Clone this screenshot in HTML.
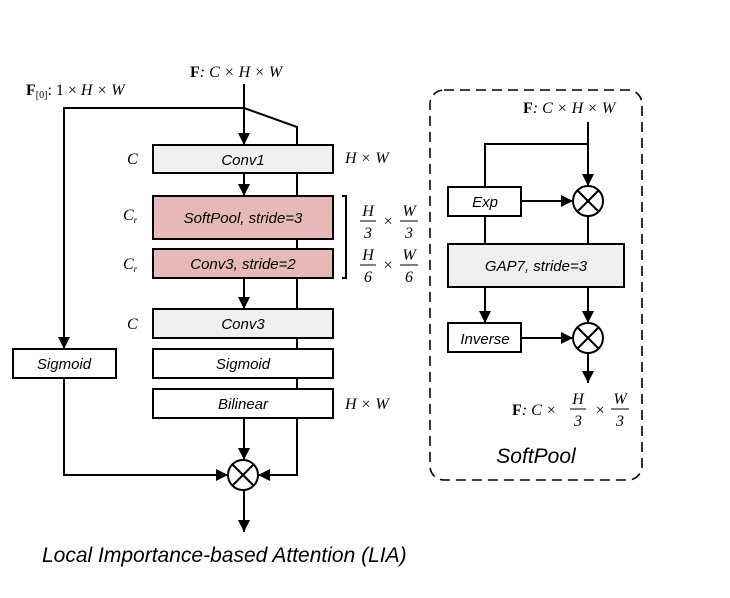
<!DOCTYPE html>
<html><head><style>
body{margin:0;background:#fff}
svg text{font-family:"Liberation Sans",sans-serif}
svg text.m,svg .m text{font-family:"Liberation Serif",serif;font-style:italic;font-size:16px}
.b{font-style:italic;font-size:15px}
</style></head><body>
<svg width="730" height="593" viewBox="0 0 730 593" xmlns="http://www.w3.org/2000/svg">
<defs>
<marker id="A" viewBox="0 0 10 10" markerWidth="12" markerHeight="12" refX="10" refY="5" orient="auto" markerUnits="userSpaceOnUse"><path d="M0,0 L10,5 L0,10 z" fill="#000"/></marker></defs>
<g stroke="#000" stroke-width="2" fill="none">
<line x1="244" y1="84" x2="244" y2="145" marker-end="url(#A)"/>
<polyline points="244,108 64,108 64,349" marker-end="url(#A)"/>
<polyline points="244,108 297,127 297,475 258,475" marker-end="url(#A)"/>
<line x1="244" y1="173" x2="244" y2="196" marker-end="url(#A)"/>
<line x1="244" y1="278" x2="244" y2="309" marker-end="url(#A)"/>
<line x1="244" y1="418" x2="244" y2="460" marker-end="url(#A)"/>
<polyline points="64,378 64,475 228,475" marker-end="url(#A)"/>
<line x1="244" y1="490" x2="244" y2="532" marker-end="url(#A)"/>
<rect x="153" y="145" width="180" height="28" fill="#f0f0f0"/>
<rect x="153" y="196" width="180" height="43" fill="#e6b8b7"/>
<rect x="153" y="249" width="180" height="29" fill="#e6b8b7"/>
<rect x="153" y="309" width="180" height="29" fill="#f0f0f0"/>
<rect x="153" y="349" width="180" height="29" fill="#fff"/>
<rect x="153" y="389" width="180" height="29" fill="#fff"/>
<rect x="13" y="349" width="103" height="29" fill="#fff"/>
<circle cx="243" cy="475" r="15" fill="#fff"/>
<line x1="232" y1="464" x2="254" y2="486"/><line x1="254" y1="464" x2="232" y2="486"/>
<polyline points="342,196 346,196 346,278 342,278"/>
<rect x="430" y="90" width="212" height="390" rx="14" stroke-dasharray="10,6" stroke-width="1.6"/>
<line x1="588" y1="122" x2="588" y2="186" marker-end="url(#A)"/>
<polyline points="588,144 485,144 485,187"/>
<line x1="521" y1="201" x2="573" y2="201" marker-end="url(#A)"/>
<line x1="485" y1="216" x2="485" y2="244"/>
<line x1="588" y1="216" x2="588" y2="244"/>
<line x1="485" y1="287" x2="485" y2="323" marker-end="url(#A)"/>
<line x1="588" y1="287" x2="588" y2="323" marker-end="url(#A)"/>
<line x1="521" y1="338" x2="573" y2="338" marker-end="url(#A)"/>
<line x1="588" y1="353" x2="588" y2="383" marker-end="url(#A)"/>
<rect x="448" y="187" width="73" height="29" fill="#fff"/>
<rect x="448" y="244" width="176" height="43" fill="#f0f0f0"/>
<rect x="448" y="323" width="73" height="29" fill="#fff"/>
<circle cx="588" cy="201" r="15" fill="#fff"/>
<line x1="577" y1="190" x2="599" y2="212"/><line x1="599" y1="190" x2="577" y2="212"/>
<circle cx="588" cy="338" r="15" fill="#fff"/>
<line x1="577" y1="327" x2="599" y2="349"/><line x1="599" y1="327" x2="577" y2="349"/>
</g>
<g text-anchor="middle">
<text x="243" y="165" class="b">Conv1</text>
<text x="243" y="223" class="b">SoftPool, stride=3</text>
<text x="243" y="269" class="b">Conv3, stride=2</text>
<text x="243" y="329" class="b">Conv3</text>
<text x="243" y="369" class="b">Sigmoid</text>
<text x="243" y="409" class="b">Bilinear</text>
<text x="64" y="369" class="b">Sigmoid</text>
<text x="485" y="207" class="b">Exp</text>
<text x="536" y="271" class="b">GAP7, stride=3</text>
<text x="485" y="344" class="b">Inverse</text>
</g>
<g class="m">
<text x="190" y="77"><tspan font-weight="bold" font-style="normal">F</tspan>: C × H × W</text>
<text x="26" y="95"><tspan font-weight="bold" font-style="normal">F</tspan><tspan font-size="10" font-style="normal" dy="3">[0]</tspan><tspan dy="-3" font-style="normal">:  1 × </tspan>H × W</text>
<text x="127" y="164">C</text>
<text x="123" y="220">C<tspan font-size="9" dy="3">r</tspan></text>
<text x="123" y="269">C<tspan font-size="9" dy="3">r</tspan></text>
<text x="127" y="329">C</text>
<text x="345" y="163">H × W</text>
<text x="345" y="409">H × W</text>
<text x="523" y="113"><tspan font-weight="bold" font-style="normal">F</tspan>: C × H × W</text>
<text x="512" y="415"><tspan font-weight="bold" font-style="normal">F</tspan>: C ×</text>
</g>
<g class="m" text-anchor="middle">
<text x="368" y="216">H</text><text x="368" y="238" font-style="normal">3</text>
<text x="388" y="226" font-style="normal">×</text>
<text x="409" y="216">W</text><text x="409" y="238" font-style="normal">3</text>
<text x="368" y="260">H</text><text x="368" y="282" font-style="normal">6</text>
<text x="388" y="270" font-style="normal">×</text>
<text x="409" y="260">W</text><text x="409" y="282" font-style="normal">6</text>
<text x="578" y="404">H</text><text x="578" y="426" font-style="normal">3</text>
<text x="600" y="415" font-style="normal">×</text>
<text x="620" y="404">W</text><text x="620" y="426" font-style="normal">3</text>
</g>
<g stroke="#000" stroke-width="1">
<line x1="360" y1="221" x2="376" y2="221"/><line x1="400" y1="221" x2="418" y2="221"/>
<line x1="360" y1="265" x2="376" y2="265"/><line x1="400" y1="265" x2="418" y2="265"/>
<line x1="570" y1="409" x2="586" y2="409"/><line x1="611" y1="409" x2="629" y2="409"/>
</g>
<text x="536" y="463" text-anchor="middle" font-style="italic" font-size="21">SoftPool</text>
<text x="42" y="562" font-style="italic" font-size="21">Local Importance-based Attention (LIA)</text>
</svg>
</body></html>
